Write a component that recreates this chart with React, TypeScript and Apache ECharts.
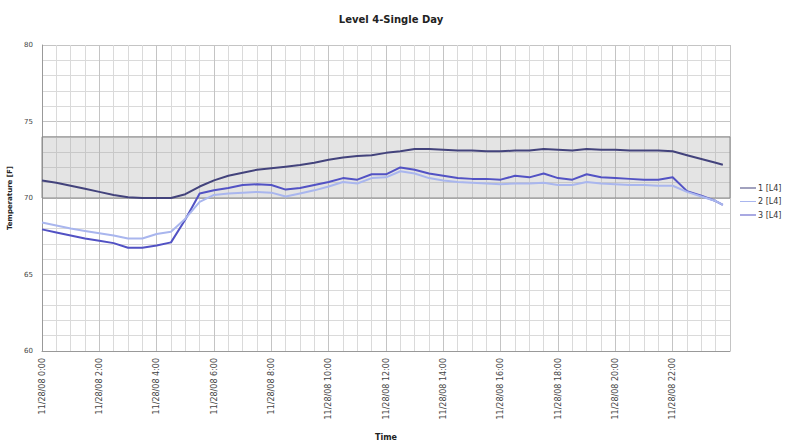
import React, { useEffect, useRef } from "react";
import * as echarts from "echarts";

const hours = [
  0, 0.5, 1, 1.5, 2, 2.5, 3, 3.5, 4, 4.5, 5, 5.5, 6, 6.5, 7, 7.5, 8, 8.5, 9, 9.5,
  10, 10.5, 11, 11.5, 12, 12.5, 13, 13.5, 14, 14.5, 15, 15.5, 16, 16.5, 17, 17.5,
  18, 18.5, 19, 19.5, 20, 20.5, 21, 21.5, 22, 22.5, 23, 23.5, 23.75,
];

const series1 = [
  71.15, 71.0, 70.8, 70.6, 70.4, 70.2, 70.05, 70.0, 70.0, 70.0, 70.25, 70.75,
  71.15, 71.45, 71.65, 71.85, 71.95, 72.05, 72.15, 72.3, 72.5, 72.65, 72.75,
  72.8, 72.95, 73.05, 73.2, 73.2, 73.15, 73.1, 73.1, 73.05, 73.05, 73.1, 73.1,
  73.2, 73.15, 73.1, 73.2, 73.15, 73.15, 73.1, 73.1, 73.1, 73.05, 72.8, 72.55,
  72.3, 72.17,
];

const series2 = [
  68.4, 68.2, 68.0, 67.85, 67.7, 67.55, 67.35, 67.35, 67.65, 67.8, 68.65, 69.75,
  70.2, 70.3, 70.35, 70.4, 70.35, 70.1, 70.3, 70.5, 70.75, 71.05, 70.95, 71.3,
  71.35, 71.75, 71.6, 71.3, 71.15, 71.05, 71.0, 70.95, 70.9, 70.95, 70.95, 71.0,
  70.85, 70.85, 71.05, 70.95, 70.9, 70.85, 70.85, 70.8, 70.8, 70.4, 70.1, 69.8,
  69.55,
];

const series3 = [
  67.95, 67.75, 67.55, 67.35, 67.2, 67.05, 66.75, 66.75, 66.9, 67.1, 68.6, 70.3,
  70.5, 70.65, 70.85, 70.9, 70.85, 70.55, 70.65, 70.85, 71.05, 71.3, 71.2, 71.55,
  71.55, 72.0, 71.85, 71.6, 71.45, 71.3, 71.25, 71.25, 71.2, 71.45, 71.35, 71.6,
  71.3, 71.2, 71.55, 71.35, 71.3, 71.25, 71.2, 71.2, 71.35, 70.45, 70.15, 69.8,
  69.55,
];

const seriesNames = ["1 [L4]", "2 [L4]", "3 [L4]"];
const seriesColors = ["#43437c", "#a9b6ee", "#5252c4"];
const bandRange = [70, 74];
const datePrefix = "11/28/08";

const FONT = "DejaVu Sans, Verdana, sans-serif";

export default function App() {
  const ref = useRef<HTMLDivElement>(null);
  useEffect(() => {
    if (!ref.current) return;
    const chart = echarts.init(ref.current, null, { renderer: "svg" });
    const allSeries = [series1, series2, series3];
    chart.setOption({
      animation: false,
      backgroundColor: "#ffffff",
      textStyle: { fontFamily: FONT },
      title: {
        text: "Level 4-Single Day",
        left: 386,
        top: 9,
        textAlign: "center",
        textStyle: { fontSize: 10, fontWeight: "bold", color: "#222", fontFamily: FONT },
      },
      legend: {
        orient: "vertical",
        left: 735,
        top: 179,
        itemWidth: 16,
        itemHeight: 8,
        itemGap: 5.5,
        icon: "path://M0,3.5 L16,3.5 L16,4.5 L0,4.5 Z",
        textStyle: { fontSize: 8, color: "#333", fontFamily: FONT, padding: [0, 0, 0, -3] },
        data: seriesNames,
      },
      grid: {
        left: 42,
        right: 57,
        top: 45,
        bottom: 89,
        containLabel: false,
        outerBoundsMode: "none",
      },
      xAxis: {
        type: "value",
        min: 0,
        max: 24,
        interval: 2,
        name: "Time",
        nameLocation: "middle",
        nameGap: 82,
        nameTextStyle: { fontSize: 8, fontWeight: "bold", color: "#222", fontFamily: FONT },
        axisLine: { show: true, lineStyle: { color: "#999" } },
        axisTick: { show: false },
        minorTick: { show: false, splitNumber: 4 },
        splitLine: { show: true, lineStyle: { color: "#c4c4c4", width: 1 } },
        minorSplitLine: { show: true, lineStyle: { color: "#dadada", width: 1 } },
        axisLabel: {
          rotate: 90,
          fontSize: 8,
          color: "#444",
          margin: 7,
          showMaxLabel: false,
          formatter: (v: number) => (v >= 24 ? "" : `${datePrefix} ${v}:00`),
        },
      },
      yAxis: {
        type: "value",
        min: 60,
        max: 80,
        interval: 5,
        name: "Temperature [F]",
        nameLocation: "middle",
        nameGap: 27,
        nameTextStyle: { fontSize: 7, fontWeight: "bold", color: "#222", fontFamily: FONT },
        axisLine: { show: true, lineStyle: { color: "#999" } },
        axisTick: { show: false },
        minorTick: { show: false, splitNumber: 5 },
        splitLine: { show: true, lineStyle: { color: "#c4c4c4", width: 1 } },
        minorSplitLine: { show: true, lineStyle: { color: "#dadada", width: 1 } },
        axisLabel: { fontSize: 7, color: "#444", margin: 9 },
      },
      series: allSeries.map((vals, i) => ({
        name: seriesNames[i],
        type: "line",
        symbol: "none",
        showSymbol: false,
        z: 10 - i,
        lineStyle: { color: seriesColors[i], width: 2 },
        itemStyle: { color: seriesColors[i] },
        data: hours.map((h, j) => [h, vals[j]]),
        markArea:
          i === 0
            ? {
                silent: true,
                itemStyle: {
                  color: "rgba(150,150,150,0.26)",
                  borderColor: "#8a8a8a",
                  borderWidth: 1,
                },
                data: [[{ yAxis: bandRange[0] }, { yAxis: bandRange[1] }]],
              }
            : undefined,
      })),
    });
    return () => chart.dispose();
  }, []);
  return (
    <div
      ref={ref}
      style={{ position: "fixed", left: 0, top: 0, width: 787, height: 440 }}
    />
  );
}
